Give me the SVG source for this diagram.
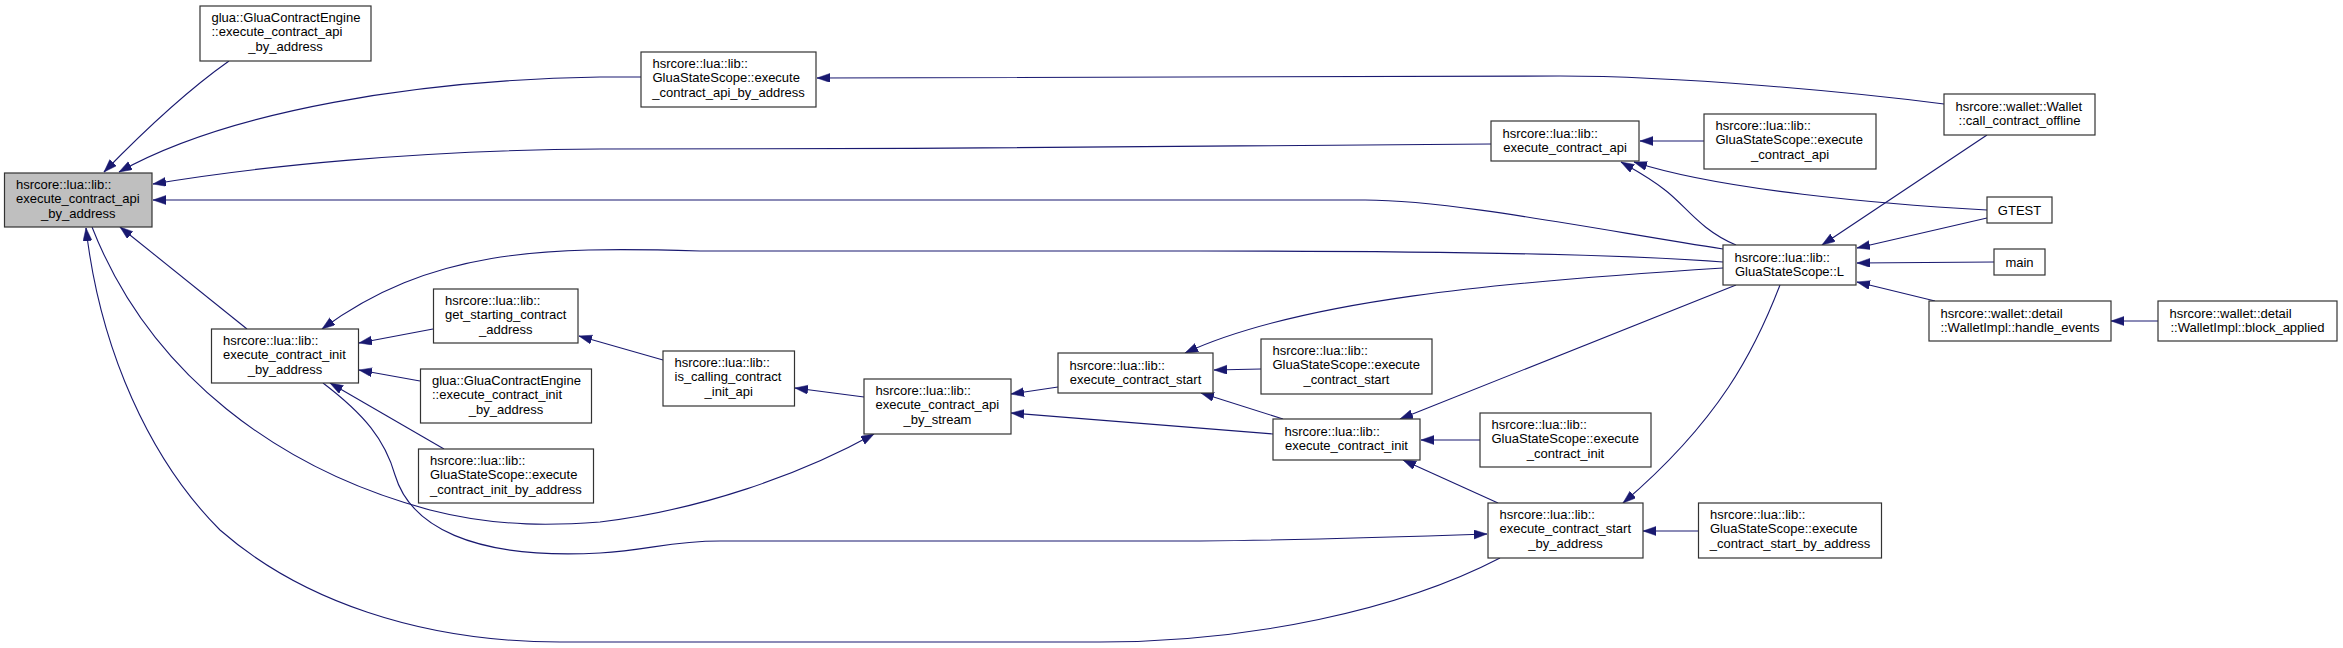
<svg xmlns="http://www.w3.org/2000/svg" width="2343" height="648" viewBox="0 0 2343 648">
<style>
.n rect{fill:#ffffff;stroke:#333333;stroke-width:1.2}
.n.root rect{fill:#bfbfbf}
.n text{font-family:"Liberation Sans",Arial,sans-serif;font-size:13px;fill:#000000}
.n text.c{text-anchor:middle}
#edges path{fill:none;stroke:#191970;stroke-width:1.1;marker-end:url(#ah)}
</style>
<defs>
<marker id="ah" markerUnits="userSpaceOnUse" markerWidth="14" markerHeight="10" refX="13" refY="4.5" orient="auto">
<path d="M0,0 L13,4.5 L0,9 z" fill="#191970" stroke="#191970" stroke-width="0.5"/>
</marker>
</defs>
<rect x="0" y="0" width="2343" height="648" fill="#ffffff"/>

<g id="edges">
<path d="M229,61 C185,92 140,135 104,172"/>
<path d="M641,77 L600,77 C420,80 230,110 119,172"/>
<path d="M1491,144 C1300,147 900,149 600,149 C420,150 260,166 153,184"/>
<path d="M1723,249 C1600,230 1450,200 1365,200 L153,200"/>
<path d="M1944,104 C1850,92 1680,76 1560,76 L817,78"/>
<path d="M1704,141 L1640,141"/>
<path d="M1736,245 C1700,230 1685,205 1665,190 C1650,178 1635,170 1621,162"/>
<path d="M1987,210 C1880,204 1720,190 1634,162"/>
<path d="M1987,135 L1822,245"/>
<path d="M1987,218 L1857,248"/>
<path d="M1994,262 L1857,263"/>
<path d="M1935,301 L1857,282"/>
<path d="M2158,321 L2111,321"/>
<path d="M1723,262 C1620,254 1400,251 1200,251 L700,251 C540,246 430,250 322,329"/>
<path d="M1723,268 C1500,282 1300,300 1185,353"/>
<path d="M1736,285 L1400,419"/>
<path d="M1780,285 C1755,350 1720,420 1623,503"/>
<path d="M1498,503 L1403,460"/>
<path d="M1480,440 L1421,440"/>
<path d="M1698,531 L1643,531"/>
<path d="M1261,369 L1214,370"/>
<path d="M1283,419 L1201,393"/>
<path d="M1058,387 L1011,394"/>
<path d="M1273,434 L1011,413"/>
<path d="M864,397 L795,388"/>
<path d="M663,360 L579,336"/>
<path d="M433,329 L359,343"/>
<path d="M420,381 L359,370"/>
<path d="M444,449 L330,383"/>
<path d="M247,329 L120,227"/>
<path d="M92,227 C150,375 280,470 430,510 C500,528 560,525 600,522 C700,510 800,475 874,434"/>
<path d="M1500,558 C1400,610 1250,642 1100,642 L560,642 C420,642 300,600 220,530 C150,460 100,350 86,228"/>
<path d="M323,383 C365,415 385,440 395,475 C410,525 470,560 600,553 C650,550 670,541 720,541 L1200,541 C1300,540 1400,537 1487,534"/>
</g>

<g id="n_main" class="n root">
<rect x="4.5" y="173" width="147.5" height="54"/>
<text x="16" y="188.5">hsrcore::lua::lib::</text>
<text x="16" y="203">execute_contract_api</text>
<text class="c" x="78.25" y="217.5">_by_address</text>
</g>
<g id="n_glua_api" class="n">
<rect x="200" y="6" width="171" height="55"/>
<text x="211.5" y="21.5">glua::GluaContractEngine</text>
<text x="211.5" y="36">::execute_contract_api</text>
<text class="c" x="285.5" y="50.5">_by_address</text>
</g>
<g id="n_gss_api_by_addr" class="n">
<rect x="641" y="52" width="175" height="55"/>
<text x="652.5" y="67.5">hsrcore::lua::lib::</text>
<text x="652.5" y="82">GluaStateScope::execute</text>
<text class="c" x="728.5" y="96.5">_contract_api_by_address</text>
</g>
<g id="n_exec_api" class="n">
<rect x="1491" y="121" width="148" height="40"/>
<text x="1502.5" y="137.5">hsrcore::lua::lib::</text>
<text class="c" x="1565" y="152">execute_contract_api</text>
</g>
<g id="n_gss_exec_api" class="n">
<rect x="1704" y="114" width="172" height="55"/>
<text x="1715.5" y="129.5">hsrcore::lua::lib::</text>
<text x="1715.5" y="144">GluaStateScope::execute</text>
<text class="c" x="1790" y="158.5">_contract_api</text>
</g>
<g id="n_gss_L" class="n">
<rect x="1723" y="245" width="133" height="40"/>
<text x="1734.5" y="261.5">hsrcore::lua::lib::</text>
<text class="c" x="1789.5" y="276">GluaStateScope::L</text>
</g>
<g id="n_wallet_offline" class="n">
<rect x="1944" y="94" width="151" height="41"/>
<text x="1955.5" y="110.5">hsrcore::wallet::Wallet</text>
<text class="c" x="2019.5" y="125">::call_contract_offline</text>
</g>
<g id="n_gtest" class="n">
<rect x="1987" y="197" width="65" height="26"/>
<text class="c" x="2019.5" y="214.5">GTEST</text>
</g>
<g id="n_main_fn" class="n">
<rect x="1994" y="249" width="51" height="26"/>
<text class="c" x="2019.5" y="266.5">main</text>
</g>
<g id="n_handle_events" class="n">
<rect x="1929" y="301" width="182" height="40"/>
<text x="1940.5" y="317.5">hsrcore::wallet::detail</text>
<text class="c" x="2020" y="332">::WalletImpl::handle_events</text>
</g>
<g id="n_block_applied" class="n">
<rect x="2158" y="301" width="179" height="40"/>
<text x="2169.5" y="317.5">hsrcore::wallet::detail</text>
<text class="c" x="2247.5" y="332">::WalletImpl::block_applied</text>
</g>
<g id="n_init_by_addr" class="n">
<rect x="211.5" y="329" width="147" height="54"/>
<text x="223" y="344.5">hsrcore::lua::lib::</text>
<text x="223" y="359">execute_contract_init</text>
<text class="c" x="285" y="373.5">_by_address</text>
</g>
<g id="n_get_starting" class="n">
<rect x="433.5" y="289" width="144.5" height="54"/>
<text x="445" y="304.5">hsrcore::lua::lib::</text>
<text x="445" y="319">get_starting_contract</text>
<text class="c" x="505.75" y="333.5">_address</text>
</g>
<g id="n_glua_init" class="n">
<rect x="420.5" y="369" width="171" height="54"/>
<text x="432" y="384.5">glua::GluaContractEngine</text>
<text x="432" y="399">::execute_contract_init</text>
<text class="c" x="506" y="413.5">_by_address</text>
</g>
<g id="n_gss_init_by_addr" class="n">
<rect x="418.5" y="449" width="175" height="54"/>
<text x="430" y="464.5">hsrcore::lua::lib::</text>
<text x="430" y="479">GluaStateScope::execute</text>
<text class="c" x="506" y="493.5">_contract_init_by_address</text>
</g>
<g id="n_is_calling" class="n">
<rect x="663" y="351" width="131.5" height="55"/>
<text x="674.5" y="366.5">hsrcore::lua::lib::</text>
<text x="674.5" y="381">is_calling_contract</text>
<text class="c" x="728.75" y="395.5">_init_api</text>
</g>
<g id="n_api_by_stream" class="n">
<rect x="864" y="379" width="147" height="55"/>
<text x="875.5" y="394.5">hsrcore::lua::lib::</text>
<text x="875.5" y="409">execute_contract_api</text>
<text class="c" x="937.5" y="423.5">_by_stream</text>
</g>
<g id="n_exec_start" class="n">
<rect x="1058" y="353" width="155" height="40"/>
<text x="1069.5" y="369.5">hsrcore::lua::lib::</text>
<text class="c" x="1135.5" y="384">execute_contract_start</text>
</g>
<g id="n_gss_exec_start" class="n">
<rect x="1261" y="339" width="171" height="55"/>
<text x="1272.5" y="354.5">hsrcore::lua::lib::</text>
<text x="1272.5" y="369">GluaStateScope::execute</text>
<text class="c" x="1346.5" y="383.5">_contract_start</text>
</g>
<g id="n_exec_init" class="n">
<rect x="1273" y="419" width="147" height="41"/>
<text x="1284.5" y="435.5">hsrcore::lua::lib::</text>
<text class="c" x="1346.5" y="450">execute_contract_init</text>
</g>
<g id="n_gss_exec_init" class="n">
<rect x="1480" y="413" width="171" height="54"/>
<text x="1491.5" y="428.5">hsrcore::lua::lib::</text>
<text x="1491.5" y="443">GluaStateScope::execute</text>
<text class="c" x="1565.5" y="457.5">_contract_init</text>
</g>
<g id="n_start_by_addr" class="n">
<rect x="1488" y="503" width="155" height="55"/>
<text x="1499.5" y="518.5">hsrcore::lua::lib::</text>
<text x="1499.5" y="533">execute_contract_start</text>
<text class="c" x="1565.5" y="547.5">_by_address</text>
</g>
<g id="n_gss_start_by_addr" class="n">
<rect x="1698.5" y="503" width="183" height="55"/>
<text x="1710" y="518.5">hsrcore::lua::lib::</text>
<text x="1710" y="533">GluaStateScope::execute</text>
<text class="c" x="1790" y="547.5">_contract_start_by_address</text>
</g>
</svg>
